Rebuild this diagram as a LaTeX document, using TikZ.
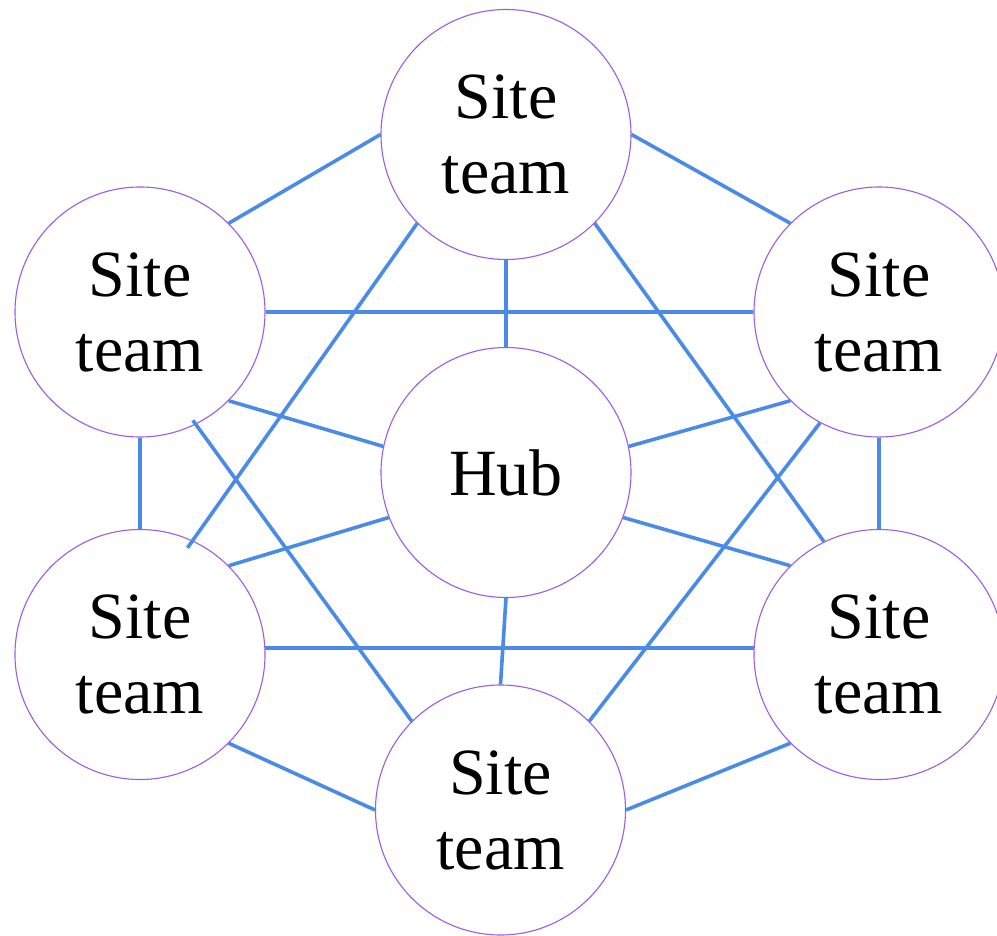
\documentclass[tikz,border=0pt]{standalone}
\usepackage{fontspec}
\setmainfont{Liberation Serif}
\usetikzlibrary{calc}
\definecolor{linkblue}{RGB}{74,139,232}
\definecolor{ringpurple}{RGB}{155,93,229}
\begin{document}
\begin{tikzpicture}[x=1pt,y=-1pt,
  site/.style={circle, draw=ringpurple, line width=1.1pt, fill=white,
    minimum size=250pt, inner sep=0pt, align=center,
    font=\fontsize{66}{75}\selectfont},
  link/.style={draw=linkblue, line width=3.6pt}]
\useasboundingbox (0,0) rectangle (997,936);
\clip (0,0) rectangle (997,936);
\node[site] (top) at (506,134.5) {Site\\team};
\node[site] (tl) at (140,312) {Site\\team};
\node[site] (tr) at (879,312) {Site\\team};
\node[site] (hub) at (506,472.5) {Hub};
\node[site] (bl) at (140,654.5) {Site\\team};
\node[site] (br) at (879,654.5) {Site\\team};
\node[site] (bottom) at (500.5,810) {Site\\team};
\draw[link] (top.west) -- (tl.north east);
\draw[link] (top.east) -- (tr.north west);
\draw[link] (top.south) -- (hub.north);
\draw[link] (top.south west) -- ($(bl.center)!0.93!(bl.66)$);
\draw[link] (top.south east) -- (br.116);
\draw[link] (tl.east) -- (tr.west);
\draw[link] (tl.south east) -- (hub.168);
\draw[link] (tl.south) -- (bl.north);
\draw[link] ($(tl.center)!0.96!(tl.-64)$) -- (bottom.north west);
\draw[link] (tr.south west) -- (hub.12);
\draw[link] (tr.south) -- (br.north);
\draw[link] (tr.-118) -- (bottom.north east);
\draw[link] (hub.201) -- (bl.north east);
\draw[link] (hub.-21) -- (br.north west);
\draw[link] (hub.south) -- (bottom.north);
\draw[link] (bl.3) -- (br.177);
\draw[link] (bl.south east) -- (bottom.west);
\draw[link] (br.south west) -- (bottom.east);
\end{tikzpicture}
\end{document}
